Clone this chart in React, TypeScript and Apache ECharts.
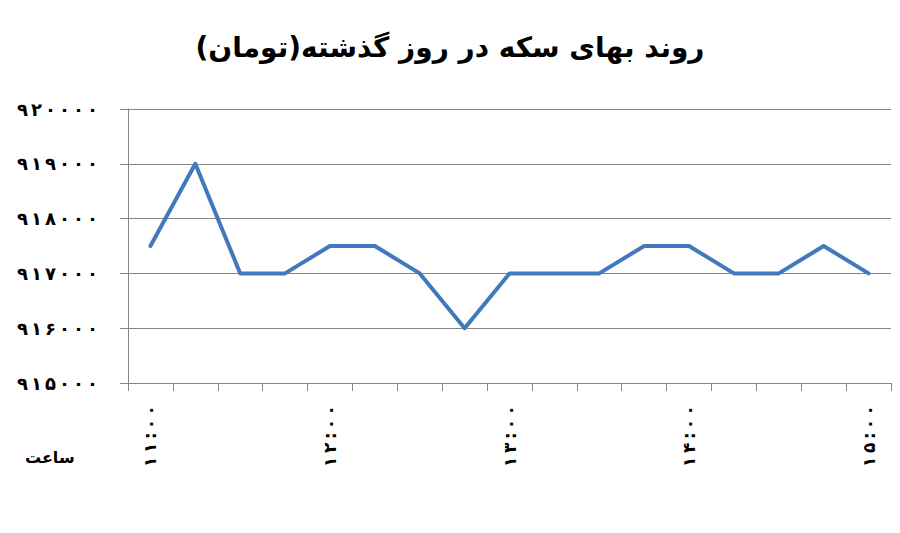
import { useEffect, useRef } from 'react';
import * as echarts from 'echarts';

// 15-minute steps from 11:00 to 15:00
const times = [
  '۱۱:۰۰', '۱۱:۱۵', '۱۱:۳۰', '۱۱:۴۵',
  '۱۲:۰۰', '۱۲:۱۵', '۱۲:۳۰', '۱۲:۴۵',
  '۱۳:۰۰', '۱۳:۱۵', '۱۳:۳۰', '۱۳:۴۵',
  '۱۴:۰۰', '۱۴:۱۵', '۱۴:۳۰', '۱۴:۴۵',
  '۱۵:۰۰',
];
const prices = [
  917500, 919000, 917000, 917000,
  917500, 917500, 917000, 916000,
  917000, 917000, 917000, 917500,
  917500, 917000, 917000, 917500,
  917000,
];
const yMin = 915000;
const yMax = 920000;
const yStep = 1000;

const titleText = 'روند بهای سکه در روز گذشته(تومان)';
const xName = 'ساعت';

const faDigits = '۰۱۲۳۴۵۶۷۸۹';
const toFa = (v: number | string) => String(v).replace(/\d/g, (d) => faDigits[+d]);
// the original labels are set with wide letter spacing
const spaced = (s: string, gap = '\u2009') => s.split('').join(gap);

const FONT = '"DejaVu Sans", sans-serif';

export default function App() {
  const chartRef = useRef<HTMLDivElement>(null);

  useEffect(() => {
    if (!chartRef.current) return;
    const chart = echarts.init(chartRef.current, undefined, { renderer: 'svg' });

    chart.setOption({
      animation: false,
      backgroundColor: '#ffffff',
      title: {
        text: titleText,
        left: 'center',
        top: 20,
        textStyle: {
          fontFamily: FONT,
          fontWeight: 'bold',
          fontSize: 28,
          color: '#000',
        },
      },
      graphic: [
        {
          type: 'text',
          left: 17,
          top: 441,
          style: {
            text: xName,
            fontFamily: FONT,
            fontWeight: 'bold',
            fontSize: 16,
            fill: '#000',
          },
        },
      ],
      grid: {
        left: 120,
        right: 1,
        top: 101,
        bottom: 142,
      },
      xAxis: {
        type: 'category',
        data: times,
        boundaryGap: true,
        axisLine: { lineStyle: { color: '#868686', width: 1 } },
        axisTick: { show: true, length: 8, interval: 0, lineStyle: { color: '#868686' } },
        axisLabel: {
          interval: 3,
          rotate: 90,
          margin: 22,
          formatter: (v: string) => spaced(v),
          fontFamily: FONT,
          fontWeight: 'bold',
          fontSize: 17,
          color: '#000',
        },
      },
      yAxis: {
        type: 'value',
        min: yMin,
        max: yMax,
        interval: yStep,
        axisLine: { show: true, lineStyle: { color: '#868686', width: 1 } },
        axisTick: { show: true, length: 8, lineStyle: { color: '#868686' } },
        axisLabel: {
          margin: 30,
          formatter: (v: number) => spaced(toFa(v), '\u2006'),
          fontFamily: FONT,
          fontWeight: 'bold',
          fontSize: 18,
          color: '#000',
        },
        splitLine: { lineStyle: { color: '#868686', width: 1 } },
      },
      series: [
        {
          type: 'line',
          data: prices,
          showSymbol: false,
          lineStyle: { color: '#4279bd', width: 4, join: 'round', cap: 'round' },
          itemStyle: { color: '#4279bd' },
        },
      ],
    });

    return () => chart.dispose();
  }, []);

  return <div ref={chartRef} style={{ width: 884, height: 517 }} />;
}
